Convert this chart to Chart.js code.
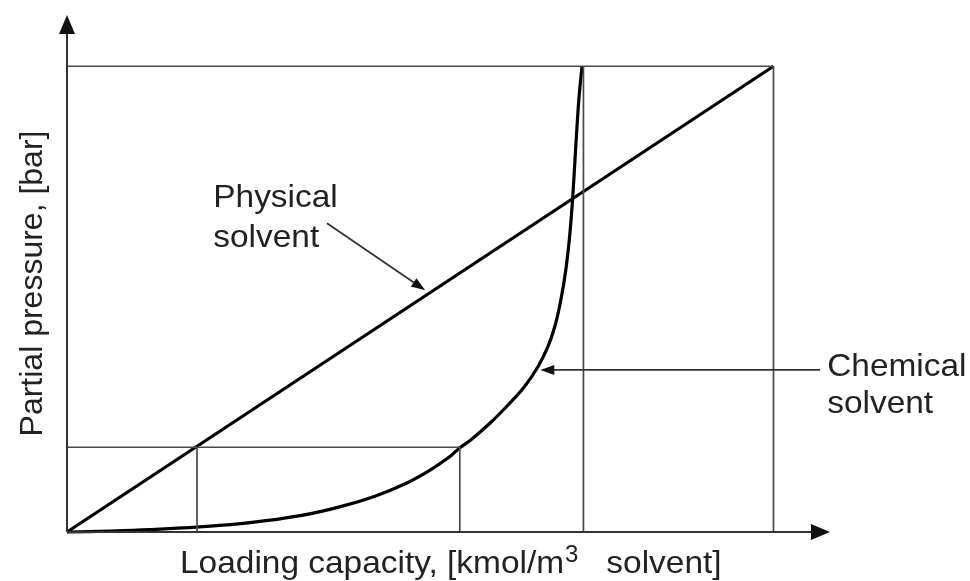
<!DOCTYPE html>
<html>
<head>
<meta charset="utf-8">
<script src="https://cdn.jsdelivr.net/npm/chart.js@4.4.1/dist/chart.umd.min.js"></script>
<style>
  html, body { margin: 0; padding: 0; background: #fff; }
  #contenedor { width: 970px; height: 581px; }
</style>
</head>
<body>
<div id="contenedor"><canvas id="grafico"></canvas></div>
<script>
// Datos (unidades arbitrarias, sin marcas en los ejes)
const cargaQuimica   = [0, 0.61, 1.17, 1.88, 2.59, 3.30, 3.86, 4.36, 4.78, 5.14, 5.42, 5.56, 5.71, 5.99, 6.27, 6.48, 6.67, 6.81, 6.91, 6.99, 7.06, 7.12, 7.16, 7.19, 7.22, 7.25, 7.29];
const presionQuimica = [0, 0.02, 0.05, 0.11, 0.20, 0.35, 0.54, 0.77, 1.03, 1.33, 1.62, 1.81, 1.97, 2.34, 2.77, 3.13, 3.56, 3.99, 4.44, 4.98, 5.62, 6.44, 7.23, 7.98, 8.73, 9.38, 10];

const cargaFisica   = [0, 10];
const presionFisica = [0, 10];

// Lineas auxiliares: [x1, y1, x2, y2]
const presionAlta = 10;
const presionBaja = 1.82;
const cargaFisicaBaja = 1.84;
const cargaQuimicaBaja = 5.56;
const cargaQuimicaMax = 7.31;
const cargaFisicaMax = 10;
const lineasGuia = [
  [0, presionAlta, cargaFisicaMax, presionAlta],
  [cargaFisicaMax, 0, cargaFisicaMax, presionAlta],
  [cargaQuimicaMax, 0, cargaQuimicaMax, presionAlta],
  [0, presionBaja, cargaQuimicaBaja, presionBaja],
  [cargaFisicaBaja, 0, cargaFisicaBaja, presionBaja],
  [cargaQuimicaBaja, 0, cargaQuimicaBaja, presionBaja]
];

const ejeXMax = 10.8;
const ejeYMax = 11.1;

const FUENTE = '"Liberation Sans", Arial, sans-serif';
const TAM = 32;
const ESTIRA = 1.045; // el texto original es un poco mas ancho

function puntos(xs, ys) {
  return xs.map((x, i) => ({ x: x, y: ys[i] }));
}

const datasets = [];
lineasGuia.forEach(l => {
  datasets.push({
    data: [{ x: l[0], y: l[1] }, { x: l[2], y: l[3] }],
    borderColor: '#4a4a4a', borderWidth: 1.7, pointRadius: 0, tension: 0
  });
});
datasets.push({
  data: puntos(cargaFisica, presionFisica),
  borderColor: '#000', borderWidth: 3.2, pointRadius: 0, tension: 0
});
datasets.push({
  data: puntos(cargaQuimica, presionQuimica),
  borderColor: '#000', borderWidth: 3.2, pointRadius: 0, tension: 0.4
});

function flecha(ctx, x1, y1, x2, y2, largo, ancho) {
  const ang = Math.atan2(y2 - y1, x2 - x1);
  ctx.beginPath();
  ctx.moveTo(x1, y1);
  ctx.lineTo(x2 - Math.cos(ang) * largo * 0.6, y2 - Math.sin(ang) * largo * 0.6);
  ctx.stroke();
  ctx.save();
  ctx.translate(x2, y2);
  ctx.rotate(ang);
  ctx.beginPath();
  ctx.moveTo(0, 0);
  ctx.lineTo(-largo, -ancho);
  ctx.lineTo(-largo, ancho);
  ctx.closePath();
  ctx.fill();
  ctx.restore();
}

// escribe texto algo estirado en horizontal, devuelve el ancho ocupado
function texto(ctx, t, x, y) {
  ctx.save();
  ctx.translate(x, y);
  ctx.scale(ESTIRA, 1);
  ctx.fillText(t, 0, 0);
  ctx.restore();
  return ctx.measureText(t).width * ESTIRA;
}

const anotaciones = {
  id: 'anotaciones',
  afterDatasetsDraw(chart) {
    const { ctx, scales: { x, y }, chartArea } = chart;
    ctx.save();
    ctx.strokeStyle = '#333';
    ctx.fillStyle = '#111';
    ctx.lineWidth = 2;
    // ejes con flechas
    flecha(ctx, x.getPixelForValue(0), y.getPixelForValue(0), x.getPixelForValue(ejeXMax), y.getPixelForValue(0), 19, 8);
    flecha(ctx, x.getPixelForValue(0), y.getPixelForValue(0), x.getPixelForValue(0), y.getPixelForValue(ejeYMax), 19, 8);

    // flechas de las etiquetas
    ctx.lineWidth = 1.8;
    flecha(ctx, x.getPixelForValue(3.68), y.getPixelForValue(6.63), x.getPixelForValue(5.07), y.getPixelForValue(5.19), 14, 5);
    flecha(ctx, x.getPixelForValue(10.66), y.getPixelForValue(3.48), x.getPixelForValue(6.70), y.getPixelForValue(3.48), 14, 5);

    // textos
    ctx.fillStyle = '#222';
    ctx.font = TAM + 'px ' + FUENTE;
    ctx.textAlign = 'left';
    ctx.textBaseline = 'alphabetic';
    texto(ctx, 'Physical', x.getPixelForValue(2.07), y.getPixelForValue(6.97));
    texto(ctx, 'solvent', x.getPixelForValue(2.07), y.getPixelForValue(6.12));
    texto(ctx, 'Chemical', x.getPixelForValue(10.76), y.getPixelForValue(3.35));
    texto(ctx, 'solvent', x.getPixelForValue(10.76), y.getPixelForValue(2.55));

    // titulo eje x con superindice
    let px = chartArea.left + 113;
    const py = chartArea.bottom + 41;
    ctx.font = TAM + 'px ' + FUENTE;
    px += texto(ctx, 'Loading capacity, [kmol/m', px, py);
    ctx.font = Math.round(TAM * 0.72) + 'px ' + FUENTE;
    px += texto(ctx, '3', px + 1, py - 11) + 1;
    ctx.font = TAM + 'px ' + FUENTE;
    texto(ctx, '   solvent]', px, py);

    // titulo eje y
    ctx.save();
    ctx.translate(42, (chartArea.top + chartArea.bottom) / 2 + 10);
    ctx.rotate(-Math.PI / 2);
    ctx.textAlign = 'center';
    ctx.fillText('Partial pressure, [bar]', 0, 0);
    ctx.restore();

    ctx.restore();
  }
};

new Chart(document.getElementById('grafico'), {
  type: 'line',
  data: { datasets: datasets },
  options: {
    responsive: true,
    maintainAspectRatio: false,
    devicePixelRatio: 1,
    animation: false,
    layout: { padding: { left: 67, right: 140, top: 15, bottom: 49 } },
    datasets: { line: { clip: false } },
    plugins: { legend: { display: false }, tooltip: { enabled: false } },
    scales: {
      x: { type: 'linear', min: 0, max: ejeXMax, display: false },
      y: { type: 'linear', min: 0, max: ejeYMax, display: false }
    }
  },
  plugins: [anotaciones]
});
</script>
</body>
</html>
